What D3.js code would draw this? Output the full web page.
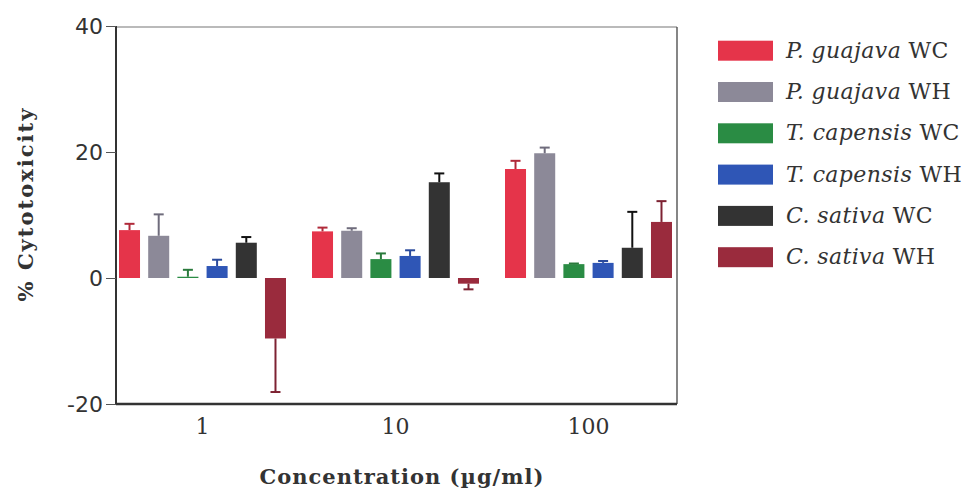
<!DOCTYPE html>
<html>
<head>
<meta charset="utf-8">
<script src="https://cdn.jsdelivr.net/npm/d3@7"></script>
<style>
  body { margin: 0; background: #fff; }
  svg text { fill: #333; }
</style>
</head>
<body>
<svg id="chart" width="980" height="497"></svg>
<script>
'use strict';

// data
const concentrations = ["1", "10", "100"];
const seriesNames = ["P. guajava WC", "P. guajava WH", "T. capensis WC", "T. capensis WH", "C. sativa WC", "C. sativa WH"];
const seriesSpecies = ["P. guajava", "P. guajava", "T. capensis", "T. capensis", "C. sativa", "C. sativa"];
const seriesSuffix = ["WC", "WH", "WC", "WH", "WC", "WH"];
const seriesColors = ["#e5344a", "#8c8998", "#2a8c44", "#2f56b6", "#333333", "#9a2b3d"];
const errColors = ["#b02a3a", "#6f6c7c", "#2a7a3c", "#2a4a9c", "#111111", "#7d2232"];
const yTicks = [-20, 0, 20, 40];

const means1 = [7.6, 6.7, 0.2, 1.9, 5.6, -9.6];
const means10 = [7.4, 7.5, 3.0, 3.5, 15.2, -0.9];
const means100 = [17.3, 19.8, 2.2, 2.4, 4.8, 8.9];
const err1 = [1.0, 3.4, 1.1, 1.0, 0.9, 8.5];
const err10 = [0.6, 0.4, 0.9, 0.9, 1.4, 0.9];
const err100 = [1.3, 0.9, 0.1, 0.3, 5.7, 3.3];

const allMeans = [means1, means10, means100];
const allErr = [err1, err10, err100];

let data = [];
concentrations.forEach(function (c, gi) {
	seriesNames.forEach(function (s, si) {
		data.push({conc: c, series: s, idx: si, value: allMeans[gi][si], err: allErr[gi][si]});
	});
});

let svg = d3.select("#chart");

let plotLeft = 116, plotRight = 677, plotTop = 26, plotBottom = 404;

let x0 = d3.scaleBand()
	.domain(concentrations)
	.range([106, 685]);

let x1 = d3.scaleBand()
	.domain(seriesNames)
	.range([x0.bandwidth() / 2 - 83.5, x0.bandwidth() / 2 + 83.5])
	.paddingInner(0.28);

let y = d3.scaleLinear()
	.domain([-20, 40])
	.range([plotBottom, plotTop]);

// frame
svg.append("line")
	.attr("x1", plotLeft).attr("x2", plotRight)
	.attr("y1", plotTop + 1).attr("y2", plotTop + 1)
	.attr("stroke", "#777").attr("stroke-width", 1.2);
svg.append("line")
	.attr("x1", plotRight).attr("x2", plotRight)
	.attr("y1", plotTop + 1).attr("y2", plotBottom)
	.attr("stroke", "#444").attr("stroke-width", 1.3);

// bars
let groups = svg.append("g").selectAll("g")
	.data(data)
	.enter().append("g")
	.attr("transform", function (d) {
		return "translate(" + (x0(d.conc) + x1(d.series)) + ",0)";
	});

groups.append("rect")
	.attr("x", 0)
	.attr("y", function (d) { return y(Math.max(0, d.value)); })
	.attr("width", x1.bandwidth())
	.attr("height", function (d) { return Math.abs(y(d.value) - y(0)); })
	.attr("fill", function (d) { return seriesColors[d.idx]; });

// error bars go away from zero
function errEnd(d) {
	return d.value >= 0 ? d.value + d.err : d.value - d.err;
}
groups.append("line")
	.attr("x1", x1.bandwidth() / 2).attr("x2", x1.bandwidth() / 2)
	.attr("y1", function (d) { return y(d.value); })
	.attr("y2", function (d) { return y(errEnd(d)); })
	.attr("stroke", function (d) { return errColors[d.idx]; })
	.attr("stroke-width", 2);
groups.append("line")
	.attr("x1", x1.bandwidth() / 2 - 5).attr("x2", x1.bandwidth() / 2 + 5)
	.attr("y1", function (d) { return y(errEnd(d)); })
	.attr("y2", function (d) { return y(errEnd(d)); })
	.attr("stroke", function (d) { return errColors[d.idx]; })
	.attr("stroke-width", 2);

// y axis
let yAxis = svg.append("g")
	.attr("transform", "translate(" + plotLeft + ",0)")
	.call(d3.axisLeft(y).tickValues(yTicks).tickSize(10).tickPadding(3)
		.tickFormat(function (d) { return String(d); }));
yAxis.select(".domain").attr("stroke", "#333").attr("stroke-width", 2)
	.attr("d", "M0," + plotTop + "V" + plotBottom);
yAxis.selectAll(".tick line").attr("stroke", "#555").attr("stroke-width", 1);
yAxis.selectAll(".tick text")
	.attr("font-family", "'DejaVu Sans', sans-serif")
	.attr("font-size", 22)
	.attr("fill", "#333");

// x axis
let xAxis = svg.append("g")
	.attr("transform", "translate(0," + plotBottom + ")")
	.call(d3.axisBottom(x0).tickSize(0).tickPadding(14));
xAxis.select(".domain").attr("stroke", "#333").attr("stroke-width", 2.5)
	.attr("d", "M" + plotLeft + ",0H" + plotRight);
xAxis.selectAll(".tick text")
	.attr("font-family", "'DejaVu Serif', serif")
	.attr("font-size", 22)
	.attr("fill", "#333");

// axis titles
svg.append("text")
	.attr("x", 402).attr("y", 484)
	.attr("text-anchor", "middle")
	.attr("font-family", "'DejaVu Serif', serif")
	.attr("font-weight", "bold")
	.attr("font-size", 21)
	.attr("letter-spacing", 1)
	.text("Concentration (\u00b5g/ml)");

svg.append("text")
	.attr("transform", "translate(33,204) rotate(-90)")
	.attr("text-anchor", "middle")
	.attr("font-family", "'DejaVu Serif', serif")
	.attr("font-weight", "bold")
	.attr("font-size", 21)
	.attr("letter-spacing", 2)
	.text("% Cytotoxicity");

// legend
let legend = svg.append("g").selectAll("g")
	.data(seriesNames)
	.enter().append("g")
	.attr("transform", function (d, i) {
		return "translate(718," + (50.7 + i * 41.3) + ")";
	});
legend.append("rect")
	.attr("x", 0).attr("y", -10)
	.attr("width", 55).attr("height", 20)
	.attr("fill", function (d, i) { return seriesColors[i]; });
let lt = legend.append("text")
	.attr("x", 68).attr("y", 7)
	.attr("font-family", "'DejaVu Serif', serif")
	.attr("font-size", 22)
	.attr("letter-spacing", 0.4);
lt.append("tspan")
	.attr("font-style", "italic")
	.text(function (d, i) { return seriesSpecies[i] + " "; });
lt.append("tspan")
	.text(function (d, i) { return seriesSuffix[i]; });
</script>
</body>
</html>
